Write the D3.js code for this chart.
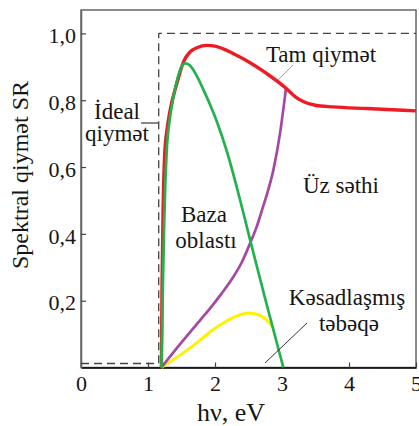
<!DOCTYPE html>
<html>
<head>
<meta charset="utf-8">
<script src="https://cdn.jsdelivr.net/npm/d3@7"></script>
<style>
    body { margin: 0; background: #fff; }
</style>
</head>
<body>
<script>
// photon energy hv (eV) and spectral response SR
const idealE = [0, 1.16, 1.16, 5];
const idealSR = [0.012, 0.012, 1.0, 1.0];

const tamE = [1.2, 1.21, 1.225, 1.25, 1.29, 1.33, 1.43, 1.53, 1.63, 1.73, 1.88, 2.0, 2.27, 2.5, 2.77, 3.06, 3.2, 3.35, 3.5, 3.76, 4.26, 5];
const tamSR = [0, 0.25, 0.47, 0.64, 0.72, 0.77, 0.85, 0.915, 0.945, 0.957, 0.964, 0.962, 0.94, 0.915, 0.88, 0.836, 0.81, 0.793, 0.785, 0.78, 0.775, 0.768];

const bazaE = [1.2, 1.22, 1.24, 1.26, 1.28, 1.33, 1.38, 1.44, 1.5, 1.55, 1.62, 1.68, 1.76, 1.83, 1.93, 2.03, 2.18, 2.37, 2.52, 2.75, 3.02];
const bazaSR = [0, 0.22, 0.42, 0.56, 0.65, 0.75, 0.81, 0.865, 0.9, 0.91, 0.905, 0.89, 0.86, 0.83, 0.785, 0.735, 0.645, 0.505, 0.385, 0.205, 0];

const uzE = [1.2, 1.5, 1.78, 1.93, 2.1, 2.27, 2.4, 2.52, 2.62, 2.7, 2.77, 2.87, 2.97, 3.06];
const uzSR = [0, 0.075, 0.142, 0.178, 0.222, 0.27, 0.315, 0.37, 0.42, 0.47, 0.515, 0.59, 0.70, 0.836];

const kesadE = [1.2, 1.5, 1.78, 1.93, 2.1, 2.3, 2.5, 2.65, 2.78, 2.86];
const kesadSR = [0, 0.04, 0.082, 0.107, 0.13, 0.152, 0.163, 0.158, 0.14, 0.122];

const xTicks = [0, 1, 2, 3, 4, 5];
const yTicks = [0.2, 0.4, 0.6, 0.8, 1.0];

const width = 419, height = 426;
const plotLeft = 81, plotRight = 416, plotTop = 10, plotBottom = 367.5;
const serif = '"Liberation Serif"';

const svg = d3.select('body').append('svg')
    .attr('width', width)
    .attr('height', height);

const x = d3.scaleLinear().domain([0, 5]).range([plotLeft, plotRight]);
const y = d3.scaleLinear().domain([0, 1.07]).range([plotBottom, plotTop]);

// frame round the plot, bottom spine darker
svg.append('rect')
    .attr('x', plotLeft).attr('y', plotTop)
    .attr('width', plotRight - plotLeft).attr('height', plotBottom - plotTop)
    .attr('fill', 'none').attr('stroke', '#666').attr('stroke-width', 1.5);

// axes with inward ticks
const xAxis = svg.append('g')
    .attr('transform', `translate(0,${plotBottom})`)
    .call(d3.axisBottom(x).tickValues(xTicks).tickSizeInner(-5).tickSizeOuter(0).tickPadding(8).tickFormat(d3.format('d')));
const yAxis = svg.append('g')
    .attr('transform', `translate(${plotLeft},0)`)
    .call(d3.axisLeft(y).tickValues(yTicks).tickSizeInner(-5).tickSizeOuter(0).tickPadding(5)
        .tickFormat(d => d3.format('.1f')(d).replace('.', ',')));

[xAxis, yAxis].forEach(g => {
    g.attr('font-family', null);
    g.selectAll('.tick line').attr('stroke', '#444').attr('stroke-width', 1.2);
    g.selectAll('.tick text')
        .style('font-family', serif)
        .style('font-size', '22px')
        .style('fill', '#161616');
});
xAxis.select('.domain').attr('stroke', '#000').attr('stroke-width', 1.6);
yAxis.select('.domain').attr('stroke', '#666').attr('stroke-width', 1.5);
yAxis.selectAll('.tick text').attr('dy', '0.42em');

// axis titles
svg.append('text')
    .attr('transform', `translate(28,175) rotate(-90)`)
    .attr('text-anchor', 'middle')
    .style('font-family', serif)
    .style('font-size', '24px')
    .style('fill', '#161616')
    .text('Spektral qiymət SR');
svg.append('text')
    .attr('x', 231).attr('y', 421)
    .attr('text-anchor', 'middle')
    .style('font-family', serif)
    .style('font-size', '26px')
    .style('fill', '#161616')
    .text('hν, eV');

const line = d3.line()
    .x(d => x(d[0]))
    .y(d => y(d[1]));

function drawCurve(es, srs, color, w, curve, dash) {
    const pts = es.map((e, i) => [e, srs[i]]);
    svg.append('path')
        .datum(pts)
        .attr('fill', 'none')
        .attr('stroke', color)
        .attr('stroke-width', w)
        .attr('stroke-dasharray', dash || null)
        .attr('stroke-linejoin', 'round')
        .attr('d', line.curve(curve)(pts));
}

drawCurve(idealE, idealSR, '#444', 1.3, d3.curveLinear, '8,5');
drawCurve(kesadE, kesadSR, '#fff200', 3, d3.curveMonotoneX);
drawCurve(uzE, uzSR, '#a349a4', 2.7, d3.curveMonotoneX);
drawCurve(tamE, tamSR, '#ed1c24', 3.4, d3.curveMonotoneX);
drawCurve(bazaE, bazaSR, '#22b14c', 2.7, d3.curveMonotoneX);

// labels and leader lines
function label(txt, px, py) {
    svg.append('text')
        .attr('x', px).attr('y', py)
        .attr('text-anchor', 'middle')
        .style('font-family', serif)
        .style('font-size', '23px')
        .style('fill', '#161616')
        .text(txt);
}
function leader(x1, y1, x2, y2, color) {
    svg.append('line')
        .attr('x1', x1).attr('y1', y1).attr('x2', x2).attr('y2', y2)
        .attr('stroke', color).attr('stroke-width', 1);
}

label('Tam qiymət', 321, 62);
leader(293, 65, 278, 80, '#f47c80');

label('İdeal', 117, 119);
label('qiymət', 117, 141);
leader(141, 123, 158, 123, '#111');

label('Baza', 204, 222);
label('oblastı', 206, 248);

label('Üz səthi', 341, 193);

label('Kəsadlaşmış', 347, 305);
label('təbəqə', 349, 331);
leader(307, 323, 265, 363, '#333');
</script>
</body>
</html>
